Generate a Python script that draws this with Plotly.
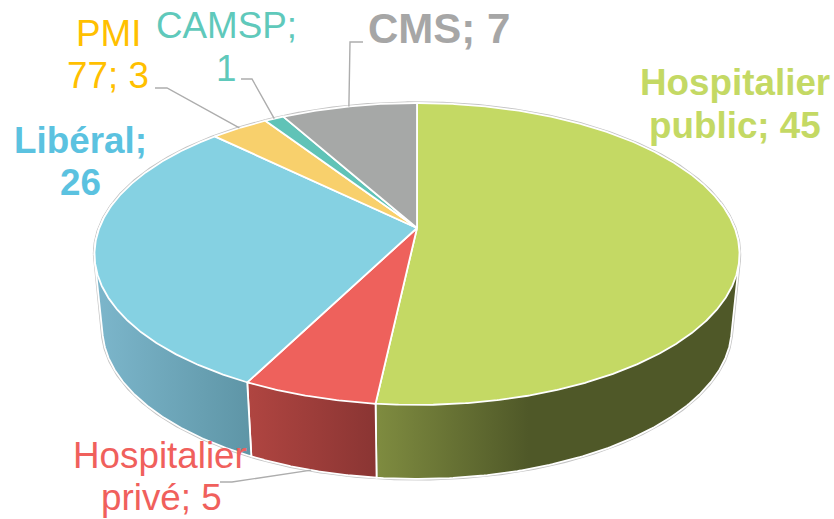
import numpy as np
import plotly.graph_objects as go

categories = ["Hospitalier public", "Hospitalier privé", "Libéral", "PMI 77", "CAMSP", "CMS"]
values = [45, 5, 26, 3, 1, 7]
top_colors = ["#C4D964", "#EE615C", "#85D1E2", "#F8D06C", "#60C3B7", "#A6A8A7"]
side_stops = [
    [(0, "#7F8C40"), (0.42, "#4F5828"), (1, "#4F5828")],
    [(0, "#B04541"), (1, "#8A3533")],
    [(0, "#7CB6CB"), (1, "#5E95A6")],
    None, None, None,
]
label_lines = [
    ("Hospitalier", 735, 82, "#C4D964", True, 36.8),
    ("public; 45", 735, 125, "#C4D964", True, 36.8),
    ("Hospitalier", 160, 455, "#F0605C", False, 36.8),
    ("privé; 5", 161, 497, "#F0605C", False, 36.8),
    ("Libéral;", 80, 140, "#5BC2E0", True, 36.8),
    ("26", 80, 182, "#5BC2E0", True, 36.8),
    ("PMI", 108, 33, "#FFC000", False, 36.8),
    ("77; 3", 108, 75, "#FFC000", False, 36.8),
    ("CAMSP;", 226, 25, "#5FC9BB", False, 36.8),
    ("1", 226, 68, "#5FC9BB", False, 36.8),
    ("CMS; 7", 439, 28, "#A6A6A6", True, 42),
]
# leader elbows: (label end x, y, elbow x, y); the last point comes from the slice
leaders = {
    1: (220, 482, 232, 482),
    3: (155, 88, 167, 88),
    4: (241, 79, 252, 79),
    5: (363, 42, 350, 42),
}

CX, K = 417.0, 0.172
TOP = dict(a=317.7, b=146.5, cy=228.0)
BOT = dict(a=310.0, b=146.5, cy=302.0)


def rim(theta_deg, d):
    t = np.radians(theta_deg)
    w = 1 + K * np.cos(t)
    return CX + d["a"] * np.sin(t) / w, d["cy"] - d["b"] * np.cos(t) / w


def hull(xs, ys):
    pts = sorted(set(zip(np.round(xs, 3).tolist(), np.round(ys, 3).tolist())))

    def half(seq):
        out = []
        for p in seq:
            while len(out) > 1 and (out[-1][0] - out[-2][0]) * (p[1] - out[-2][1]) - (out[-1][1] - out[-2][1]) * (p[0] - out[-2][0]) <= 0:
                out.pop()
            out.append(p)
        return out[:-1]

    h = half(pts) + half(pts[::-1])
    h.append(h[0])
    return [p[0] for p in h], [p[1] for p in h]


total = sum(values)
edges = np.concatenate([[0], np.cumsum(values)]) / total * 360
fig = go.Figure()

# silhouette
all_t = np.linspace(0, 360, 721)
tx, ty = rim(all_t, TOP)
bx, by = rim(all_t, BOT)
hx, hy = hull(np.r_[tx, bx], np.r_[ty, by])
fig.add_trace(go.Scatter(x=hx, y=hy, mode="lines", line=dict(color="#C4C4C4", width=3.4), hoverinfo="skip"))

# side walls
for i, stops in enumerate(side_stops):
    if stops is None:
        continue
    s, e = max(edges[i], 80), min(edges[i + 1], 280)
    t = np.linspace(s, e, 200)
    x1, y1 = rim(t, TOP)
    x2, y2 = rim(t, BOT)
    px, py = hull(np.r_[x1, x2], np.r_[y1, y2])
    visible_x = np.r_[x1, x2]
    if i == 2:
        g0, g1 = 97.0, visible_x.max()
    else:
        g0, g1 = visible_x.min(), 740.0 if i == 0 else visible_x.max()
    fig.add_trace(go.Scatter(
        x=px, y=py, mode="lines", fill="toself",
        fillgradient=dict(type="horizontal", colorscale=[[a, c] for a, c in stops], start=g0, stop=g1),
        line=dict(color="white", width=1.8), hoverinfo="skip", name=categories[i] + " side",
    ))

# top faces
for i, c in enumerate(top_colors):
    t = np.linspace(edges[i], edges[i + 1], max(int(values[i] * 12), 12))
    x, y = rim(t, TOP)
    fig.add_trace(go.Scatter(
        x=np.r_[CX, x, CX], y=np.r_[TOP["cy"], y, TOP["cy"]], mode="lines", fill="toself",
        fillcolor=c, line=dict(color="white", width=1.8), hoverinfo="skip", name=categories[i],
    ))

# leader lines
for i, (x0, y0, x1, y1) in leaders.items():
    mid = (edges[i] + edges[i + 1]) / 2
    ex, ey = rim(mid, BOT if i == 1 else TOP)
    fig.add_trace(go.Scatter(x=[x0, x1, ex], y=[y0, y1, ey], mode="lines",
                             line=dict(color="#ADADAD", width=1.4), hoverinfo="skip"))

annotations = [
    dict(x=x, y=y, xref="x", yref="y", text=("<b>%s</b>" % s if bold else s), showarrow=False,
         xanchor="center", yanchor="middle",
         font=dict(family="Liberation Sans", size=size, color=col))
    for s, x, y, col, bold, size in label_lines
]

fig.update_layout(
    width=834, height=519, autosize=False, showlegend=False,
    margin=dict(l=0, r=0, t=0, b=0), paper_bgcolor="white", plot_bgcolor="white",
    xaxis=dict(range=[0, 834], visible=False, fixedrange=True),
    yaxis=dict(range=[519, 0], visible=False, fixedrange=True),
    annotations=annotations,
)
fig.write_html("out.html", config={"displayModeBar": False},
               post_script="document.documentElement.style.overflow='hidden';document.body.style.margin='0';")
